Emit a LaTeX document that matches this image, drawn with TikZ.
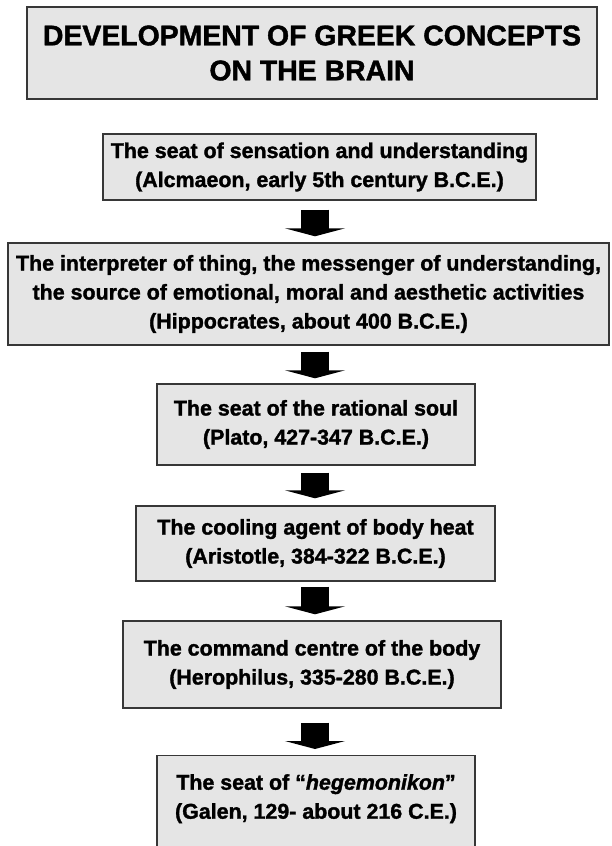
\documentclass[tikz,border=0pt]{standalone}
\usepackage{fontspec}
\setmainfont{Liberation Sans}[BoldFeatures={FakeBold=1.5}, BoldItalicFeatures={FakeBold=1.5}]
\usepackage{xcolor}
\usepackage{tikz}
\usetikzlibrary{arrows.meta,positioning}
\definecolor{boxfill}{RGB}{229,229,229}
\definecolor{boxline}{RGB}{55,55,55}
\tikzset{
  concept/.style={fill=boxfill, draw=boxline, line width=1.4pt, align=center, inner sep=0pt,
    font=\bfseries\fontsize{21.4}{29}\selectfont},
  heading/.style={concept, font=\bfseries\fontsize{28.4}{35}\selectfont},
  blockarrow/.style={line width=28pt, -{Triangle[width=60pt,length=8pt]}}
}

\begin{document}
\begin{tikzpicture}[x=1pt, y=-1pt]
  \useasboundingbox (0,0) rectangle (611,846);
  % title
  \node[heading, minimum width=570, minimum height=92] (title) at (312,53)
    {DEVELOPMENT OF GREEK CONCEPTS\\ON THE BRAIN};
  % concepts, one box each
  \node[concept, minimum width=433, minimum height=66] (alcmaeon) at (319.5,167)
    {The seat of sensation and understanding\\(Alcmaeon, early 5th century B.C.E.)};
  \node[concept, minimum width=601, minimum height=102] (hippocrates) at (308.5,294)
    {The interpreter of thing, the messenger of understanding,\\the source of emotional, moral and aesthetic activities\\(Hippocrates, about 400 B.C.E.)};
  \node[concept, minimum width=318, minimum height=81] (plato) at (316,424.5)
    {The seat of the rational soul\\(Plato, 427-347 B.C.E.)};
  \node[concept, minimum width=359, minimum height=75] (aristotle) at (315.5,543.5)
    {The cooling agent of body heat\\(Aristotle, 384-322 B.C.E.)};
  \node[concept, minimum width=378, minimum height=87] (herophilus) at (312,664.5)
    {The command centre of the body\\(Herophilus, 335-280 B.C.E.)};
  \node[concept, minimum width=318, text height=63pt, text depth=52pt, anchor=north] (galen) at (316,755)
    {The seat of “\textit{hegemonikon}”\\(Galen, 129- about 216 C.E.)};
  % block arrows down the middle
  \coordinate (axis) at (315,0);
  \foreach \from/\to/\a/\b in {alcmaeon/hippocrates/9/6, hippocrates/plato/6/5,
      plato/aristotle/7/7, aristotle/herophilus/5/6, herophilus/galen/14/6}
    \draw[blockarrow, shorten <=\a pt, shorten >=\b pt] (\from.south -| axis) -- (\to.north -| axis);
\end{tikzpicture}
\end{document}
